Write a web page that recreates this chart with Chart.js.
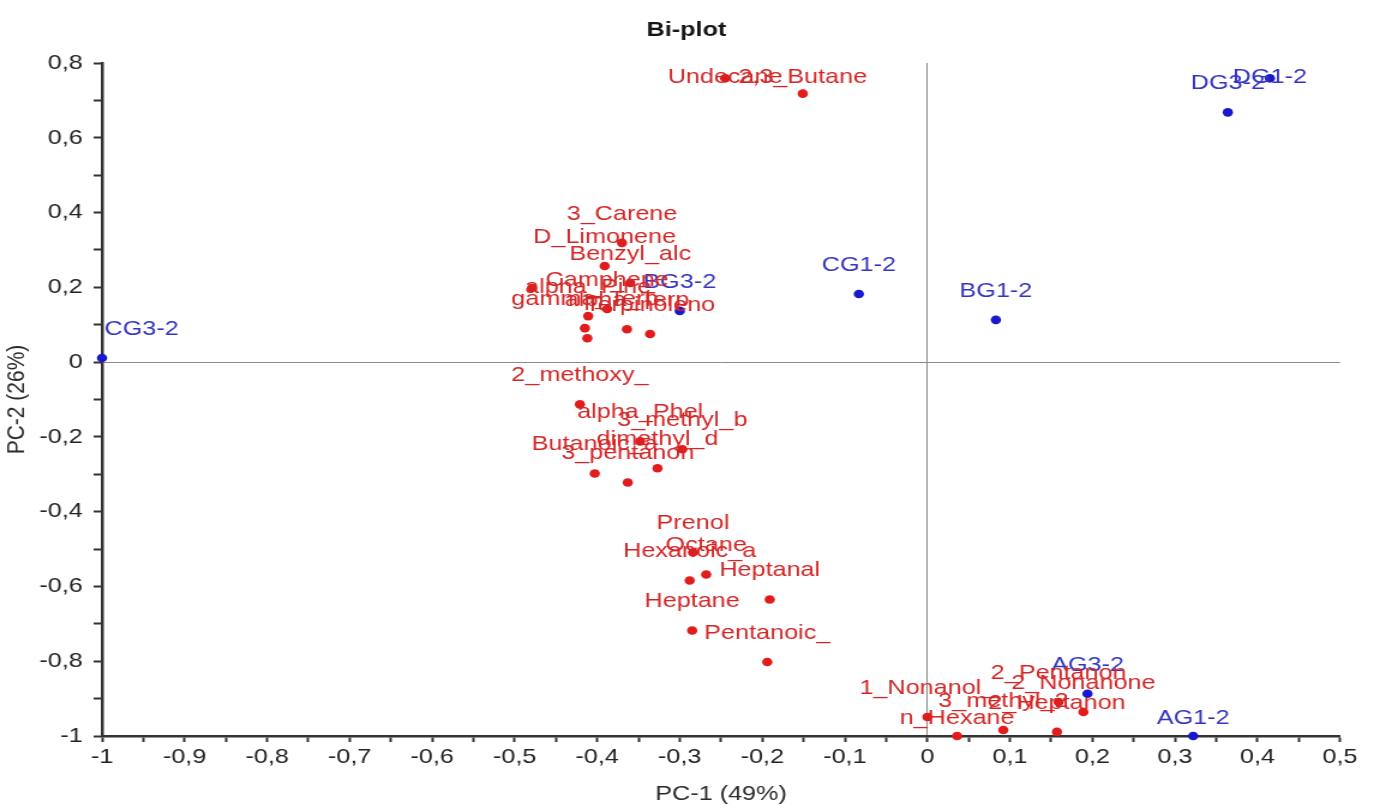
<!DOCTYPE html>
<html>
<head>
<meta charset="utf-8">
<title>Bi-plot</title>
<script src="https://cdn.jsdelivr.net/npm/chart.js@4.4.1/dist/chart.umd.min.js"></script>
<style>
  html, body { margin: 0; padding: 0; background: #fff; overflow: hidden; }
  /* drawn at 1144px wide, then widened to the full 1373px like the exported figure */
  #wrap { width: 1144px; height: 807px; transform: scaleX(1.2); transform-origin: 0 0; }
</style>
</head>
<body>
<div id="wrap"><canvas id="biplot"></canvas></div>
<script>
// Variables (red)
const varNames = [
    'Undecane', '2,3_Butane', '3_Carene', 'D_Limonene', 'Benzyl_alc',
    'Camphene', 'alpha_Pine', 'gamma_Terp', 'Terpinoleno', 'alpha_Terp', '', '',
    '2_methoxy_', 'alpha_Phel', '3_methyl_b', 'dimethyl_d', 'Butanoic_a', '3_pentanon',
    'Prenol', 'Octane', 'Hexanoic_a', 'Heptanal', 'Heptane', 'Pentanoic_',
    '1_Nonanol_', 'n_Hexane', '3_methyl_2', '2_Heptanon', '2_Pentanon', '2_Nonanone'
];
const varPc1 = [
    -0.245, -0.151, -0.370, -0.391, -0.360,
    -0.388, -0.411, -0.415, -0.336, -0.364, -0.479, -0.412,
    -0.421, -0.348, -0.297, -0.327, -0.403, -0.363,
    -0.284, -0.268, -0.288, -0.191, -0.285, -0.194,
    0.000, 0.036, 0.092, 0.157, 0.159, 0.189
];
const varPc2 = [
    0.759, 0.718, 0.319, 0.257, 0.212,
    0.142, 0.123, 0.091, 0.075, 0.088, 0.198, 0.064,
    -0.113, -0.212, -0.233, -0.284, -0.298, -0.322,
    -0.509, -0.568, -0.584, -0.635, -0.718, -0.802,
    -0.949, -1.000, -0.984, -0.989, -0.909, -0.936
];

// Observations (blue)
const obsNames = ['CG3-2', 'BG3-2', 'CG1-2', 'BG1-2', 'DG3-2', 'DG1-2', 'AG3-2', 'AG1-2'];
const obsPc1 = [-1.000, -0.300, -0.083, 0.083, 0.364, 0.415, 0.194, 0.322];
const obsPc2 = [0.011, 0.137, 0.182, 0.113, 0.668, 0.759, -0.887, -1.000];

// Axis titles
const xTitle = 'PC-1 (49%)';
const yTitle = 'PC-2 (26%)';
const chartTitle = 'Bi-plot';

const FONT = '"Liberation Sans", Arial, sans-serif';
const RED = 'rgb(226, 28, 28)';
const RED_TEXT = 'rgb(212, 38, 38)';
const BLUE = 'rgb(24, 24, 205)';
const BLUE_TEXT = 'rgb(52, 52, 196)';

function toPoints(xs, ys) {
    return xs.map((x, i) => ({ x: x, y: ys[i] }));
}

// decimal comma, as in the original software
function fmt(v) {
    return String(Math.round(v * 10) / 10).replace('.', ',');
}

// Title centred on the whole canvas
const titlePlugin = {
    id: 'centredTitle',
    afterDraw(chart) {
        const ctx = chart.ctx;
        ctx.save();
        ctx.font = 'bold 21px ' + FONT;
        ctx.fillStyle = '#151515';
        ctx.textAlign = 'center';
        ctx.textBaseline = 'middle';
        ctx.fillText(chartTitle, chart.width / 2, 30);
        ctx.restore();
    }
};

// Names written above each point, kept inside the plot area
const pointLabels = {
    id: 'pointLabels',
    afterDatasetsDraw(chart) {
        const ctx = chart.ctx;
        const area = chart.chartArea;
        ctx.save();
        ctx.font = '21px ' + FONT;
        ctx.textAlign = 'center';
        ctx.textBaseline = 'middle';
        chart.data.datasets.forEach((ds, di) => {
            const meta = chart.getDatasetMeta(di);
            ctx.fillStyle = ds.labelColor;
            meta.data.forEach((el, i) => {
                const text = ds.names[i];
                if (!text) return;
                const w = ctx.measureText(text).width;
                let x = Math.max(el.x, area.left + w / 2 + 2);
                x = Math.min(x, area.right - w / 2);
                // points sitting on the bottom axis get their label closer
                const lift = el.y >= area.bottom - 3 ? 18 : 29;
                const y = Math.max(el.y - lift, area.top + 14);
                ctx.fillText(text, x, y);
            });
        });
        ctx.restore();
    }
};

function zeroLine(c) {
    return Math.abs(c.tick.value) < 1e-9 ? '#8a8a8a' : 'rgba(0,0,0,0)';
}

const ctx = document.getElementById('biplot').getContext('2d');
new Chart(ctx, {
    type: 'scatter',
    data: {
        datasets: [
            {
                label: 'Observations',
                data: toPoints(obsPc1, obsPc2),
                names: obsNames,
                labelColor: BLUE_TEXT,
                backgroundColor: BLUE,
                pointRadius: 4.3,
                borderWidth: 0,
                clip: false
            },
            {
                label: 'Variables',
                data: toPoints(varPc1, varPc2),
                names: varNames,
                labelColor: RED_TEXT,
                backgroundColor: RED,
                pointRadius: 4.3,
                borderWidth: 0,
                clip: false
            }
        ]
    },
    options: {
        responsive: true,
        maintainAspectRatio: false,
        animation: false,
        events: [],
        layout: { padding: { left: 0, right: 27.3, top: 63, bottom: 0 } },
        plugins: {
            legend: { display: false },
            tooltip: { enabled: false },
            title: { display: false }
        },
        scales: {
            x: {
                type: 'linear',
                min: -1,
                max: 0.5,
                afterFit: scale => { scale.height = 71; },
                border: { display: true, color: '#333', width: 2.5 },
                grid: {
                    drawOnChartArea: true,
                    color: zeroLine,
                    lineWidth: 1,
                    drawTicks: true,
                    tickLength: 6,
                    tickColor: '#333',
                    tickWidth: 2
                },
                ticks: {
                    stepSize: 0.05,
                    autoSkip: false,
                    maxRotation: 0,
                    padding: 3,
                    color: '#222',
                    font: { family: FONT, size: 21 },
                    callback: v => (Math.round(v * 20) % 2 !== 0 ? '' : fmt(v))
                },
                title: {
                    display: true,
                    text: xTitle,
                    color: '#2a2a2a',
                    font: { family: FONT, size: 21 },
                    padding: 0
                }
            },
            y: {
                type: 'linear',
                min: -1,
                max: 0.8,
                afterFit: scale => { scale.width = 85; },
                border: { display: true, color: '#333', width: 2.5 },
                grid: {
                    drawOnChartArea: true,
                    color: zeroLine,
                    lineWidth: 1,
                    drawTicks: true,
                    tickLength: 7,
                    tickColor: '#333',
                    tickWidth: 2
                },
                ticks: {
                    stepSize: 0.1,
                    autoSkip: false,
                    padding: 9,
                    color: '#222',
                    font: { family: FONT, size: 21 },
                    callback: v => (Math.round(v * 10) % 2 !== 0 ? '' : fmt(v))
                },
                title: {
                    display: true,
                    text: yTitle,
                    color: '#2a2a2a',
                    font: { family: FONT, size: 21 },
                    padding: 2
                }
            }
        }
    },
    plugins: [pointLabels, titlePlugin]
});
</script>
</body>
</html>
